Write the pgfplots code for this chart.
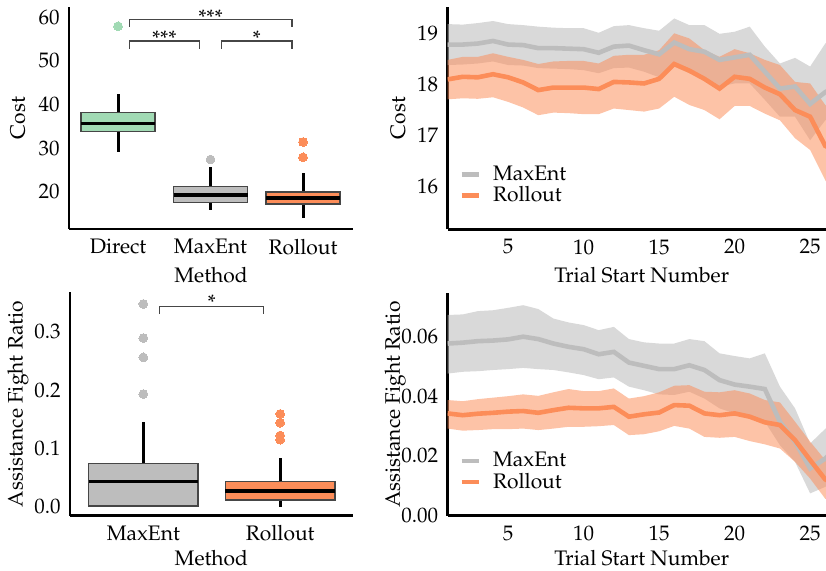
\documentclass[border=0pt]{standalone}
\usepackage[T1]{fontenc}
\usepackage{mathpazo}
\usepackage{pgfplots}
\pgfplotsset{compat=1.18}
\usepgfplotslibrary{statistics}

\definecolor{cgreen}{RGB}{161,218,180}
\definecolor{cgray}{RGB}{189,189,189}
\definecolor{corange}{RGB}{252,141,89}
\definecolor{cedge}{RGB}{70,70,70}

% mean curves over trial start number
\pgfplotstableread{
x  costme costro afrme afrro
1  18.78  18.10  .0577 .0342
2  18.78  18.15  .0580 .0336
3  18.80  18.14  .0585 .0341
4  18.85  18.20  .0587 .0344
5  18.78  18.14  .0591 .0348
6  18.77  18.04  .0600 .0350
7  18.71  17.89  .0592 .0344
8  18.71  17.94  .0577 .0353
9  18.70  17.94  .0566 .0361
10 18.69  17.94  .0558 .0359
11 18.62  17.91  .0541 .0359
12 18.74  18.05  .0549 .0364
13 18.76  18.04  .0513 .0331
14 18.67  18.02  .0502 .0339
15 18.59  18.11  .0491 .0345
16 18.82  18.40  .0491 .0370
17 18.69  18.27  .0504 .0368
18 18.64  18.11  .0488 .0342
19 18.48  17.92  .0454 .0336
20 18.53  18.15  .0439 .0342
21 18.58  18.11  .0432 .0331
22 18.25  17.94  .0424 .0312
23 17.92  17.81  .0314 .0303
24 17.96  17.50  .0247 .0252
25 17.62  17.37  .0157 .0185
26 17.85  16.80  .0190 .0120
27 18.00  16.65  .0240 .0095
}\means

\newcommand{\fs}{\fontsize{10.5}{12.5}\selectfont}

\pgfplotsset{
  panel/.style={
    scale only axis,
    axis lines*=left,
    axis line style={line width=1.3pt,-},
    major tick length=0pt,
    tick style={draw=none},
    tick label style={font=\fs},
    label style={font=\fs},
    xticklabel style={yshift=-1.5pt},
    yticklabel style={xshift=-1.2pt},
  },
  boxes/.style={
    panel, clip=false,
    boxplot/draw direction=y,
    boxplot/every whisker/.style={draw=black, line width=1.5pt},
    boxplot/every median/.style={draw=black, line width=1.6pt},
  },
  curves/.style={
    panel,
    xmin=1, xmax=26.05,
    xtick={5,10,15,20,25},
    xlabel={Trial Start Number},
    legend style={at={(axis description cs:0.03,0.095)}, anchor=south west,
      draw=none, fill=none, font=\fs, inner sep=0pt, row sep=-1.5pt,
      nodes={inner sep=1.5pt},
      /tikz/every odd column/.append style={column sep=4.5pt}},
    legend cell align=left,
    legend image code/.code={\draw[line width=2.3pt] (0pt,0pt) -- (8.5pt,0pt);},
  },
  band/.style={draw=none, fill=#1, forget plot},
  outl/.style={mark=*, mark size=2.2pt, mark options={draw=#1, fill=#1, line width=0pt}},
}

\begin{document}
\begin{tikzpicture}
\path[use as bounding box] (0,0) rectangle (413pt,-285.5pt);

% ---- top left: cost per method
\begin{axis}[boxes,
  at={(34.5pt,-114.5pt)}, anchor=south west,
  width=142pt, height=111pt,
  xmin=-0.53, xmax=2.54, ymin=11.5, ymax=62.3,
  xtick={0,1,2}, xticklabels={Direct,MaxEnt,Rollout},
  ytick={20,30,40,50,60},
  xlabel={Method}, ylabel={Cost},
  xlabel style={at={(axis description cs:0.5,-0.207)}, anchor=center},
  ylabel style={at={(axis description cs:-0.18,0.5)}, anchor=center},
]
\addplot[boxplot prepared={draw position=0, lower whisker=29.2, lower quartile=33.8,
    median=35.6, upper quartile=38.2, upper whisker=42.3, box extend=0.8, whisker extend=0},
  draw=cedge, line width=0.8pt, fill=cgreen, outl=cgreen]
  coordinates {(0,57.9)};
\addplot[boxplot prepared={draw position=1, lower whisker=15.8, lower quartile=17.6,
    median=19.3, upper quartile=21.2, upper whisker=25.8, box extend=0.8, whisker extend=0},
  draw=cedge, line width=0.8pt, fill=cgray, outl=cgray]
  coordinates {(1,27.4)};
\addplot[boxplot prepared={draw position=2, lower whisker=14.0, lower quartile=17.2,
    median=18.6, upper quartile=19.9, upper whisker=24.4, box extend=0.8, whisker extend=0},
  draw=cedge, line width=0.8pt, fill=corange, outl=corange]
  coordinates {(2,31.4) (2,27.9)};
\draw[cedge, line width=0.6pt] (axis cs:0.12,57.8) -- (axis cs:0.12,59.5) -- (axis cs:1.88,59.5) -- (axis cs:1.88,57.8);
\draw[cedge, line width=0.6pt] (axis cs:0.12,52.7) -- (axis cs:0.12,54.5) -- (axis cs:0.88,54.5) -- (axis cs:0.88,52.7);
\draw[cedge, line width=0.6pt] (axis cs:1.12,52.7) -- (axis cs:1.12,54.5) -- (axis cs:1.88,54.5) -- (axis cs:1.88,52.7);
\node[font=\fs, anchor=base, inner sep=0pt] at (axis cs:1,58.3) {***};
\node[font=\fs, anchor=base, inner sep=0pt] at (axis cs:0.5,53.4) {***};
\node[font=\fs, anchor=base, inner sep=0pt] at (axis cs:1.5,53.4) {*};
\end{axis}

% ---- top right: cost over trials
\begin{axis}[curves,
  at={(223.85pt,-114.65pt)}, anchor=south west,
  width=189.15pt, height=111.3pt,
  ymin=15.17, ymax=19.52, ytick={16,17,18,19},
  ylabel={Cost},
  xlabel style={at={(axis description cs:0.513,-0.205)}, anchor=center},
  ylabel style={at={(axis description cs:-0.131,0.5)}, anchor=center},
]
\addplot[band=cgray, fill opacity=0.58] coordinates {
(1,19.18)(2,19.17)(3,19.20)(4,19.24)(5,19.18)(6,19.16)(7,19.13)(8,19.11)(9,19.10)
(10,19.10)(11,19.01)(12,19.14)(13,19.16)(14,19.10)(15,19.05)(16,19.29)(17,19.16)
(18,19.16)(19,18.99)(20,19.03)(21,19.13)(22,18.74)(23,18.41)(24,18.52)(25,18.35)
(26,18.80)(27,19.10)
(27,17.40)(26,17.30)(25,16.91)(24,17.37)(23,17.37)(22,17.70)(21,18.02)(20,18.02)
(19,17.96)(18,18.12)(17,18.22)(16,18.35)(15,18.14)(14,18.25)(13,18.33)(12,18.32)
(11,18.22)(10,18.28)(9,18.30)(8,18.31)(7,18.32)(6,18.37)(5,18.38)(4,18.45)
(3,18.41)(2,18.39)(1,18.38)} -- cycle;
\addplot[band=corange, fill opacity=0.53] coordinates {
(1,18.48)(2,18.54)(3,18.54)(4,18.61)(5,18.54)(6,18.48)(7,18.40)(8,18.45)(9,18.46)
(10,18.46)(11,18.41)(12,18.56)(13,18.58)(14,18.58)(15,18.67)(16,19.00)(17,18.90)
(18,18.67)(19,18.54)(20,18.69)(21,18.61)(22,18.48)(23,18.38)(24,18.05)(25,18.02)
(26,17.60)(27,17.40)
(27,15.70)(26,16.13)(25,16.72)(24,16.95)(23,17.30)(22,17.43)(21,17.58)(20,17.58)
(19,17.32)(18,17.50)(17,17.60)(16,17.76)(15,17.53)(14,17.47)(13,17.50)(12,17.53)
(11,17.42)(10,17.42)(9,17.44)(8,17.45)(7,17.40)(6,17.55)(5,17.66)(4,17.75)
(3,17.72)(2,17.73)(1,17.71)} -- cycle;
\addplot[cgray, line width=2.3pt] table[x=x, y=costme] {\means};
\addlegendentry{MaxEnt}
\addplot[corange, line width=2.3pt] table[x=x, y=costro] {\means};
\addlegendentry{Rollout}
\end{axis}

% ---- bottom left: fight ratio per method
\begin{axis}[boxes,
  at={(35pt,-257.85pt)}, anchor=south west,
  width=141.35pt, height=111.7pt,
  xmin=-0.536, xmax=1.53, ymin=-0.0154, ymax=0.3675,
  xtick={0,1}, xticklabels={MaxEnt,Rollout},
  ytick={0,0.1,0.2,0.3},
  yticklabel style={/pgf/number format/fixed, /pgf/number format/precision=1,
    /pgf/number format/fixed zerofill},
  scaled y ticks=false,
  xlabel={Method}, ylabel={Assistance Fight Ratio},
  xlabel style={at={(axis description cs:0.5,-0.192)}, anchor=center},
  ylabel style={at={(axis description cs:-0.184,0.5)}, anchor=center},
]
\addplot[boxplot prepared={draw position=0, lower whisker=0.0, lower quartile=0.001,
    median=0.043, upper quartile=0.0744, upper whisker=0.146, box extend=0.8, whisker extend=0},
  draw=cedge, line width=0.8pt, fill=cgray, outl=cgray]
  coordinates {(0,0.3475) (0,0.289) (0,0.256) (0,0.193)};
\addplot[boxplot prepared={draw position=1, lower whisker=0.0, lower quartile=0.0115,
    median=0.027, upper quartile=0.043, upper whisker=0.083, box extend=0.8, whisker extend=0},
  draw=cedge, line width=0.8pt, fill=corange, outl=corange]
  coordinates {(1,0.159) (1,0.144) (1,0.122) (1,0.115)};
\draw[cedge, line width=0.6pt] (axis cs:0.12,0.330) -- (axis cs:0.12,0.3435) -- (axis cs:0.88,0.3435) -- (axis cs:0.88,0.330);
\node[font=\fs, anchor=base, inner sep=0pt] at (axis cs:0.5,0.3375) {*};
\end{axis}

% ---- bottom right: fight ratio over trials
\begin{axis}[curves,
  at={(223.85pt,-257.85pt)}, anchor=south west,
  width=189.15pt, height=111.2pt,
  ymin=-0.0002, ymax=0.0746, ytick={0,0.02,0.04,0.06},
  yticklabel style={/pgf/number format/fixed, /pgf/number format/precision=2,
    /pgf/number format/fixed zerofill},
  scaled y ticks=false,
  ylabel={Assistance Fight Ratio},
  xlabel style={at={(axis description cs:0.513,-0.19)}, anchor=center},
  ylabel style={at={(axis description cs:-0.139,0.5)}, anchor=center},
]
\addplot[band=cgray, fill opacity=0.58] coordinates {
(1,.0673)(2,.0675)(3,.0686)(4,.0689)(5,.0697)(6,.0706)(7,.0693)(8,.0661)(9,.0648)
(10,.0639)(11,.0622)(12,.0633)(13,.0592)(14,.0581)(15,.0577)(16,.0577)(17,.0592)
(18,.0585)(19,.0544)(20,.0535)(21,.0527)(22,.0544)(23,.0432)(24,.0359)(25,.0241)
(26,.0290)(27,.0330)
(27,.0130)(26,.0095)(25,.0073)(24,.0179)(23,.0235)(22,.0314)(21,.0331)(20,.0342)
(19,.0359)(18,.0392)(17,.0415)(16,.0404)(15,.0406)(14,.0420)(13,.0432)(12,.0463)
(11,.0457)(10,.0471)(9,.0480)(8,.0488)(7,.0491)(6,.0495)(5,.0491)(4,.0488)
(3,.0484)(2,.0482)(1,.0476)} -- cycle;
\addplot[band=corange, fill opacity=0.53] coordinates {
(1,.0387)(2,.0383)(3,.0390)(4,.0395)(5,.0400)(6,.0406)(7,.0401)(8,.0413)(9,.0424)
(10,.0417)(11,.0417)(12,.0426)(13,.0392)(14,.0400)(15,.0413)(16,.0435)(17,.0437)
(18,.0415)(19,.0413)(20,.0420)(21,.0409)(22,.0387)(23,.0379)(24,.0314)(25,.0247)
(26,.0185)(27,.0160)
(27,.0030)(26,.0055)(25,.0123)(24,.0179)(23,.0224)(22,.0238)(21,.0249)(20,.0263)
(19,.0260)(18,.0263)(17,.0291)(16,.0300)(15,.0282)(14,.0272)(13,.0269)(12,.0303)
(11,.0299)(10,.0297)(9,.0297)(8,.0291)(7,.0286)(6,.0291)(5,.0289)(4,.0289)
(3,.0286)(2,.0284)(1,.0291)} -- cycle;
\addplot[cgray, line width=2.3pt] table[x=x, y=afrme] {\means};
\addlegendentry{MaxEnt}
\addplot[corange, line width=2.3pt] table[x=x, y=afrro] {\means};
\addlegendentry{Rollout}
\end{axis}
\end{tikzpicture}
\end{document}
